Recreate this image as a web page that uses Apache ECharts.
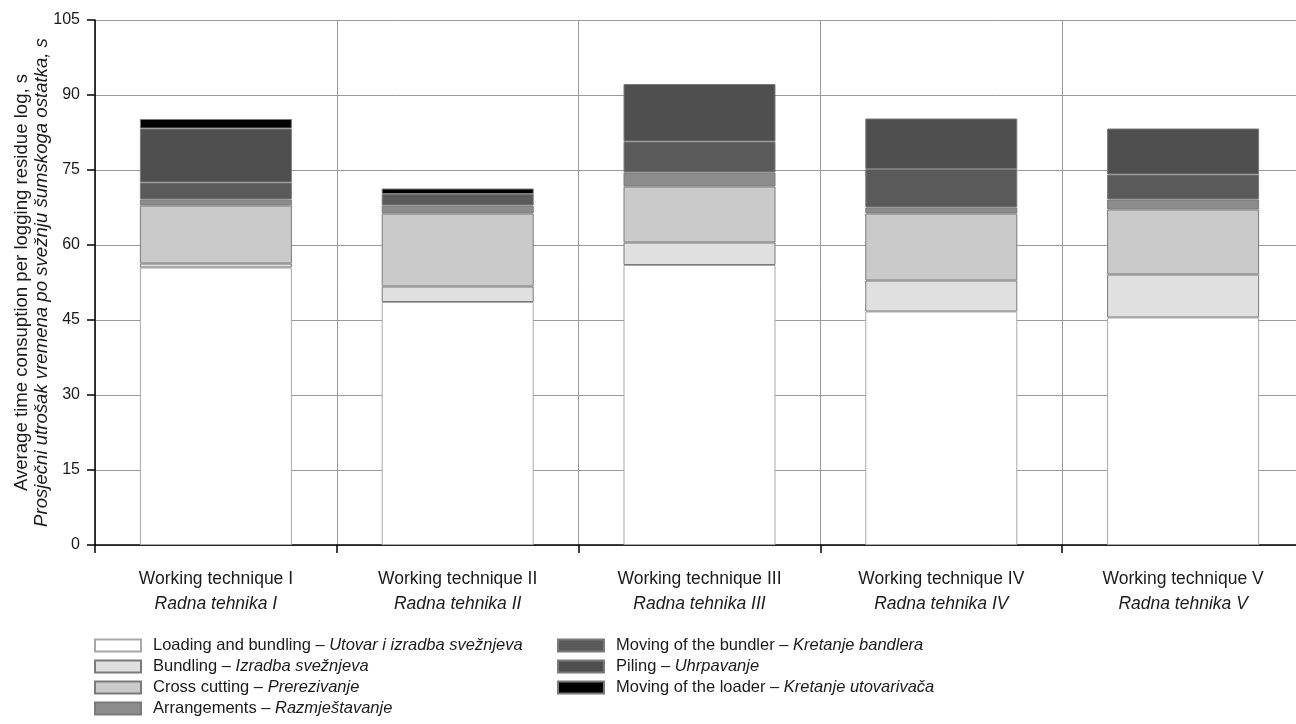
<!DOCTYPE html>
<html>
<head>
<meta charset="utf-8">
<script src="https://cdn.jsdelivr.net/npm/echarts@6/dist/echarts.min.js"></script>
<style>html,body{margin:0;padding:0;background:#fff;}#c{width:1296px;height:724px;}</style>
</head>
<body>
<div id="c"></div>
<script>
const categoriesEn = ['Working technique I','Working technique II','Working technique III','Working technique IV','Working technique V'];
const categoriesHr = ['Radna tehnika I','Radna tehnika II','Radna tehnika III','Radna tehnika IV','Radna tehnika V'];
const seriesNamesEn = ['Loading and bundling','Bundling','Cross cutting','Arrangements','Moving of the bundler','Piling','Moving of the loader'];
const seriesNamesHr = ['Utovar i izradba svežnjeva','Izradba svežnjeva','Prerezivanje','Razmještavanje','Kretanje bandlera','Uhrpavanje','Kretanje utovarivača'];
const loading = [55.5, 48.6, 56.0, 46.7, 45.5];
const bundling = [0.8, 3.1, 4.5, 6.2, 8.6];
const crossCutting = [11.6, 14.6, 11.2, 13.4, 13.0];
const arrangements = [1.2, 1.6, 2.8, 1.2, 2.0];
const movingBundler = [3.4, 2.3, 6.2, 7.7, 5.0];
const piling = [10.8, 0, 11.5, 10.1, 9.2];
const movingLoader = [1.9, 1.1, 0, 0, 0];
const yTicks = [0, 15, 30, 45, 60, 75, 90, 105];
const colors = ['#ffffff','#e0e0e0','#cacaca','#8c8c8c','#5a5a5a','#4f4f4f','#000000'];

const allData = [loading, bundling, crossCutting, arrangements, movingBundler, piling, movingLoader];
const font = 'Liberation Sans, Arial, sans-serif';
const txt = '#1a1a1a';

const series = allData.map((d, i) => ({
  name: seriesNamesEn[i],
  type: 'bar',
  stack: 'total',
  barWidth: 152,
  data: d.map(v => v === 0 ? '-' : v),
  itemStyle: { color: colors[i], borderColor: i === 0 ? '#a8a8a8' : '#7a7a7a', borderWidth: 1 },
  emphasis: { disabled: true }
}));

const legendFormatter = name => {
  const i = seriesNamesEn.indexOf(name);
  return name + ' – {i|' + seriesNamesHr[i] + '}';
};
const legendCommon = {
  orient: 'vertical',
  padding: 0,
  itemWidth: 46,
  itemHeight: 12,
  itemGap: 4,
  icon: 'rect',
  formatter: legendFormatter,
  textStyle: { fontFamily: font, fontSize: 16.5, color: txt, padding: [0,0,0,7], lineHeight: 17,
    rich: { i: { fontFamily: font, fontSize: 16.5, fontStyle: 'italic', color: txt, lineHeight: 17 } } }
};

const chart = echarts.init(document.getElementById('c'), null, { renderer: 'canvas' });
chart.setOption({
  animation: false,
  backgroundColor: '#ffffff',
  grid: { left: 95, width: 1209, top: 20, bottom: 179, containLabel: false, outerBoundsMode: 'none' },
  legend: [
    Object.assign({}, legendCommon, { left: 94, top: 637, data: seriesNamesEn.slice(0, 4) }),
    Object.assign({}, legendCommon, { left: 557, top: 637, data: seriesNamesEn.slice(4) })
  ],
  xAxis: {
    type: 'category',
    data: categoriesEn,
    axisLine: { lineStyle: { color: '#000', width: 1.5 } },
    axisTick: { show: true, length: 8, lineStyle: { color: '#000', width: 1.5 } },
    splitLine: { show: true, lineStyle: { color: '#9a9a9a', width: 1 } },
    axisLabel: {
      margin: 22,
      formatter: (v, idx) => '{a|' + v + '}\n{b|' + categoriesHr[idx] + '}',
      rich: {
        a: { fontFamily: font, fontSize: 17.5, color: txt, lineHeight: 24.5 },
        b: { fontFamily: font, fontSize: 17.5, color: txt, fontStyle: 'italic', lineHeight: 24.5 }
      }
    }
  },
  yAxis: {
    type: 'value',
    min: 0, max: 105, interval: 15,
    axisLine: { show: true, lineStyle: { color: '#000', width: 1.5 } },
    axisTick: { show: true, length: 8, lineStyle: { color: '#000', width: 1.5 } },
    splitLine: { show: true, lineStyle: { color: '#9a9a9a', width: 1 } },
    axisLabel: { fontFamily: font, fontSize: 16, color: txt, margin: 15,
      formatter: v => yTicks.includes(v) ? String(v) : '' },
    name: '{a|Average time consuption per logging residue log, s}\n{b|Prosječni utrošak vremena po svežnju šumskoga ostatka, s}',
    nameLocation: 'middle',
    nameRotate: 90,
    nameGap: 43,
    nameMoveOverlap: false,
    nameTextStyle: {
      rich: {
        a: { fontFamily: font, fontSize: 18.6, color: txt, lineHeight: 20, align: 'center' },
        b: { fontFamily: font, fontSize: 18.6, color: txt, fontStyle: 'italic', lineHeight: 20, align: 'center' }
      }
    }
  },
  series: series
});
</script>
</body>
</html>
